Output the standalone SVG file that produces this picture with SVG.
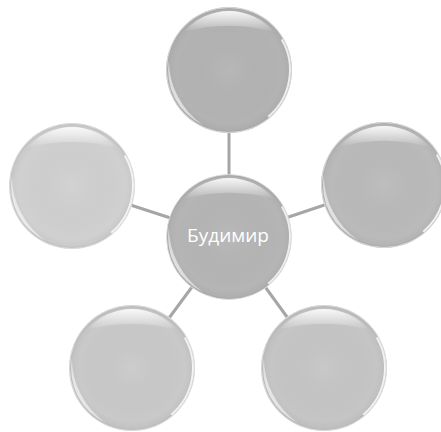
<svg xmlns="http://www.w3.org/2000/svg" xmlns:xlink="http://www.w3.org/1999/xlink" width="441" height="432" viewBox="0 0 441 432">
<style>
.conn{stroke:#a6a6a6;stroke-width:3;fill:none}
.lbl{font-family:"Open Sans","Noto Sans","DejaVu Sans",sans-serif;font-size:19px;fill:#ffffff;text-anchor:middle}
.rim{fill:none;stroke:#ffffff;stroke-width:2;opacity:0.8}
.edge{fill:none;stroke:#e2e2e2;stroke-width:1;opacity:0.7}
</style>
<defs>
<radialGradient id="shade" cx="0.5" cy="0.5" r="0.5">
<stop offset="0" stop-color="#ffffff" stop-opacity="0.06"/>
<stop offset="0.85" stop-color="#000000" stop-opacity="0.0"/>
<stop offset="0.96" stop-color="#000000" stop-opacity="0.035"/>
<stop offset="1" stop-color="#ffffff" stop-opacity="0.3"/>
</radialGradient>
<linearGradient id="topHi" x1="0" y1="0" x2="0" y2="1">
<stop offset="0" stop-color="#ffffff" stop-opacity="0.9"/>
<stop offset="1" stop-color="#ffffff" stop-opacity="0"/>
</linearGradient>
<linearGradient id="botHi" x1="0" y1="1" x2="1" y2="0">
<stop offset="0" stop-color="#ffffff" stop-opacity="0.95"/>
<stop offset="0.7" stop-color="#ffffff" stop-opacity="0.2"/>
<stop offset="1" stop-color="#ffffff" stop-opacity="0"/>
</linearGradient>
<g id="gloss">
<circle r="63" fill="url(#shade)"/>
<path d="M -45.2,-37.9 A 59 59 0 0 1 45.2,-37.9 A 170 170 0 0 0 -45.2,-37.9 Z" fill="url(#topHi)"/>
<path d="M -60.1,-10.6 A 61 61 0 0 0 -25.8,55.3 A 80 80 0 0 1 -60.1,-10.6 Z" fill="url(#botHi)"/>
<path d="M 52.8,-30.5 A 61 61 0 0 1 39.2,46.7" class="rim"/>
<circle r="62.5" class="edge"/>
</g>
</defs>
<g id="connectors">
<line class="conn" x1="229" y1="237" x2="229" y2="70"/>
<line class="conn" x1="229" y1="237" x2="72" y2="186"/>
<line class="conn" x1="229" y1="237" x2="384" y2="185"/>
<line class="conn" x1="229" y1="237" x2="132" y2="368"/>
<line class="conn" x1="229" y1="237" x2="324" y2="368"/>
</g>
<g id="node-top">
<circle cx="229" cy="70" r="63" fill="#b3b3b3"/>
<use xlink:href="#gloss" x="229" y="70"/>
</g>
<g id="node-left">
<circle cx="72" cy="186" r="63" fill="#d0d0d0"/>
<use xlink:href="#gloss" x="72" y="186"/>
</g>
<g id="node-right">
<circle cx="384" cy="185" r="63" fill="#bababa"/>
<use xlink:href="#gloss" x="384" y="185"/>
</g>
<g id="node-bottom-left">
<circle cx="132" cy="368" r="63" fill="#c9c9c9"/>
<use xlink:href="#gloss" x="132" y="368"/>
</g>
<g id="node-bottom-right">
<circle cx="324" cy="368" r="63" fill="#c5c5c5"/>
<use xlink:href="#gloss" x="324" y="368"/>
</g>
<g id="node-center">
<circle cx="229" cy="237" r="62.5" fill="#b5b5b5"/>
<use xlink:href="#gloss" x="229" y="237"/>
<text class="lbl" x="228" y="242">Будимир</text>
</g>
</svg>
